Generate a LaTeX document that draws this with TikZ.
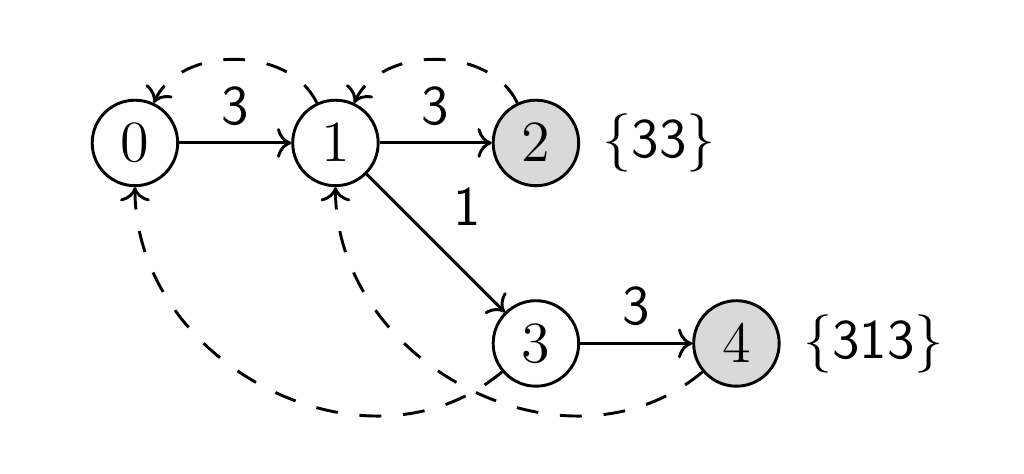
\documentclass[tikz,border=0pt]{standalone}
\usepackage{amsmath}
\usepackage{amssymb}
\usepackage{tikz}
\usetikzlibrary{arrows.meta}

\begin{document}
\begin{tikzpicture}[font=\fontsize{11.5}{14}\selectfont, line width=0.6pt,
                    state/.style={circle,draw,inner sep=2.8pt},
                    final/.style={circle,draw,inner sep=2.8pt,fill=gray!30},
                    fail/.style={->,dash pattern=on 4.5pt off 4.5pt}]
                \useasboundingbox (-0.976,-2.387) rectangle (6.43,1.034);
                \node[state] (s0) at (0,0) {$0$};
                \node[state] (s1) at (1.45,0) {$1$};
                \node[final,label={[label distance=1pt]right:$\{\textsf{33}\}$}] (s2) at (2.9,0) {$2$};
                \node[state] (s3) at (2.9,-1.45) {$3$};
                \node[final,label={[label distance=1pt]right:$\{\textsf{313}\}$}] (s4) at (4.35,-1.45) {$4$};
                \draw[->] (s0) -- node[above]{\textsf{3}} (s1);
                \draw[->] (s1) -- node[above]{\textsf{3}} (s2);
                \draw[->] (s1) -- node[above right]{\textsf{1}} (s3);
                \draw[->] (s3) -- node[above]{\textsf{3}} (s4);
                \draw[fail] (s1.115) to[out=115,in=65] (s0.65);
                \draw[fail] (s2.115) to[out=115,in=65] (s1.65);
                \draw[fail] (s3.220) to[out=220,in=270,looseness=1.1] (s0.south);
                \draw[fail] (s4.220) to[out=220,in=270,looseness=1.1] (s1.south);
            \end{tikzpicture}
\end{document}
